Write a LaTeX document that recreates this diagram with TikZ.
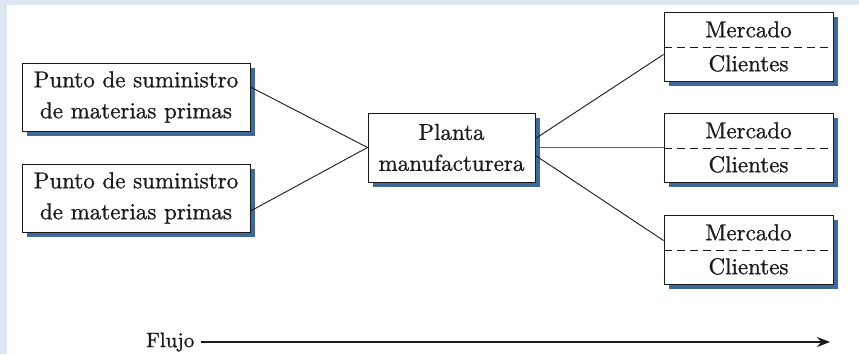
\documentclass[tikz,border=0pt]{standalone}
\usepackage{fontspec}
\usetikzlibrary{shadows,arrows.meta}
% slightly heavier Latin Modern for the labels
\newfontfamily\labelfont{lmroman10-regular.otf}[FakeBold=0.9]
\definecolor{pagebg}{HTML}{DCE6F0}
\definecolor{shadowblue}{HTML}{3D6A98}
\definecolor{linkblue}{HTML}{3F6C8E}
\definecolor{ink}{HTML}{1A1A1A}
\begin{document}
\begin{tikzpicture}[x=1pt,y=-1pt,
  box/.style={draw=ink, line width=1pt, fill=white, inner sep=0pt,
    align=center, text=ink, font=\labelfont\fontsize{23}{31}\selectfont,
    drop shadow={shadow xshift=5pt, shadow yshift=-5pt, fill=shadowblue, opacity=1}},
  supply/.style={box, minimum width=228pt, minimum height=68pt},
  plant/.style={box, minimum width=167pt, minimum height=69pt},
  market/.style={box, minimum width=169pt, minimum height=69pt,
    font=\labelfont\fontsize{23}{34}\selectfont},
  link/.style={line width=0.9pt, ink},
  split/.style={dashed, dash pattern=on 8pt off 5pt, line width=1pt, ink}]
  % page frame
  \fill[pagebg] (0,0) rectangle (859,354);
  \fill[white] (7,5) rectangle (859,354);
  \useasboundingbox (0,0) rectangle (859,354);

  % supply points
  \node[supply] (s1) at (136,97) {Punto de suministro\\de materias primas};
  \node[supply] (s2) at (136,198) {Punto de suministro\\de materias primas};

  % plant
  \node[plant] (p) at (451.5,147.5) {Planta\\manufacturera};

  % markets
  \node[market] (m1) at (748.5,46.5) {Mercado\\Clientes};
  \node[market] (m2) at (748.5,147.5) {Mercado\\Clientes};
  \node[market] (m3) at (748.5,249.5) {Mercado\\Clientes};
  \foreach \m in {m1,m2,m3}
    \draw[split] ([yshift=-1pt]\m.west) -- ([yshift=-1pt]\m.east);

  % connectors
  \draw[link] ([yshift=10pt]s1.east) -- (p.west);
  \draw[link] ([yshift=-13pt]s2.east) -- (p.west);
  \draw[link] ([yshift=9pt]p.east) -- ([yshift=-8pt]m1.west);
  \draw[line width=0.9pt, linkblue] (p.east) -- (m2.west);
  \draw[link] ([yshift=-8pt]p.east) -- ([yshift=9pt]m3.west);

  % flow arrow
  \node[font=\labelfont\fontsize{21}{25}\selectfont, text=ink, anchor=west, inner sep=0pt] (f) at (146,342) {Flujo};
  \coordinate (fend) at (830,342);
  \draw[line width=1.1pt, ink, -{Stealth[length=13pt,width=10pt]}] ([xshift=6pt]f.east) -- (fend);
\end{tikzpicture}
\end{document}
